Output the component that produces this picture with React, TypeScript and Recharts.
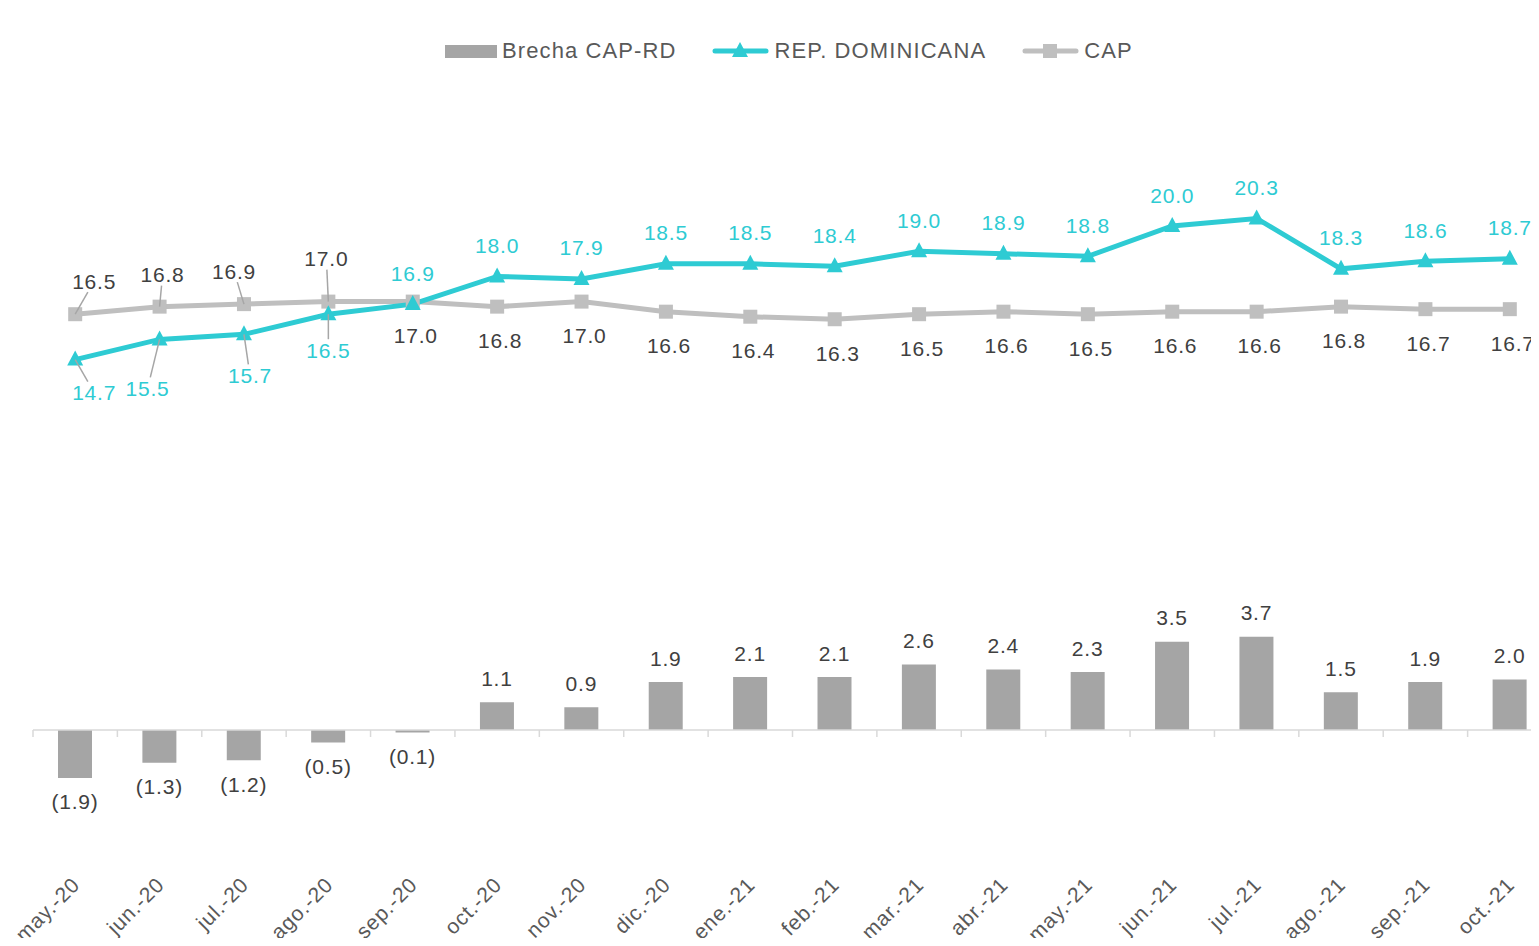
import React from "react";
import {
  ComposedChart,
  Bar,
  Line,
  XAxis,
  YAxis,
  ReferenceLine,
  LabelList,
} from "recharts";

const months = [
  "may.-20", "jun.-20", "jul.-20", "ago.-20", "sep.-20", "oct.-20",
  "nov.-20", "dic.-20", "ene.-21", "feb.-21", "mar.-21", "abr.-21",
  "may.-21", "jun.-21", "jul.-21", "ago.-21", "sep.-21", "oct.-21",
];

const brecha = [
  -1.9, -1.3, -1.2, -0.5, -0.1, 1.1, 0.9, 1.9, 2.1,
  2.1, 2.6, 2.4, 2.3, 3.5, 3.7, 1.5, 1.9, 2.0,
];

const repDominicana = [
  14.7, 15.5, 15.7, 16.5, 16.9, 18.0, 17.9, 18.5, 18.5,
  18.4, 19.0, 18.9, 18.8, 20.0, 20.3, 18.3, 18.6, 18.7,
];

const cap = [
  16.5, 16.8, 16.9, 17.0, 17.0, 16.8, 17.0, 16.6, 16.4,
  16.3, 16.5, 16.6, 16.5, 16.6, 16.6, 16.8, 16.7, 16.7,
];

const data = months.map((month, i) => ({
  month,
  brecha: brecha[i],
  rd: repDominicana[i],
  cap: cap[i],
}));

const CYAN = "#2ECBD3";
const LINE_GRAY = "#BFBFBF";
const BAR_GRAY = "#A5A5A5";
const TEXT = "#404040";
const FONT = "'Liberation Sans', Arial, sans-serif";

// label offsets for the crowded first points (the rest follow a default)
const capLabelOffsets = [[19, -33], [3, -32], [-10, -33], [-2, -43]];
const rdLabelOffsets = [[19, 33], [-12, 49], [6, 41], [0, 36]];

const fmt = (v: number) => (v < 0 ? `(${Math.abs(v).toFixed(1)})` : v.toFixed(1));

function makeLineLabel(offsets: number[][], fallback: number[], color: string) {
  return (props: any) => {
    const { x, y, value, index } = props;
    const [dx, dy] = offsets[index] ?? fallback;
    const lx = x + dx;
    const ly = y + dy;
    const leader = index < offsets.length;
    const endY = ly - Math.sign(dy) * 11;
    const endX = x + (dx * (endY - y)) / dy;
    return (
      <g>
        {leader && (
          <line x1={x} y1={y} x2={endX} y2={endY} stroke="#A6A6A6" strokeWidth={1.5} />
        )}
        <text
          x={lx}
          y={ly}
          textAnchor="middle"
          dominantBaseline="central"
          fill={color}
          fontSize={21}
          letterSpacing={0.8}
          fontFamily={FONT}
        >
          {Number(value).toFixed(1)}
        </text>
      </g>
    );
  };
}

const BarLabel = (props: any) => {
  const { x, y, width, height, value } = props;
  const top = Math.min(y, y + height);
  const bottom = Math.max(y, y + height);
  const ly = value < 0 ? bottom + 24 : top - 24;
  return (
    <text
      x={x + width / 2}
      y={ly}
      textAnchor="middle"
      dominantBaseline="central"
      fill={TEXT}
      fontSize={21}
      letterSpacing={0.8}
      fontFamily={FONT}
    >
      {fmt(Number(value))}
    </text>
  );
};

const Triangle = (props: any) => {
  const { cx, cy, index } = props;
  if (cx == null || cy == null) return <g key={index} />;
  return (
    <polygon
      key={index}
      points={`${cx},${cy - 9} ${cx - 8},${cy + 6} ${cx + 8},${cy + 6}`}
      fill={CYAN}
    />
  );
};

const Square = (props: any) => {
  const { cx, cy, index } = props;
  if (cx == null || cy == null) return <g key={index} />;
  return <rect key={index} x={cx - 7} y={cy - 7} width={14} height={14} fill={LINE_GRAY} />;
};

// zero line with category boundary ticks (the category axis crosses at 0)
const ZeroAxis = (props: any) => {
  const { x1, y1, x2 } = props;
  const step = (x2 - x1) / months.length;
  return (
    <g>
      <line x1={x1} y1={y1} x2={x2} y2={y1} stroke="#D9D9D9" strokeWidth={1.5} />
      {Array.from({ length: months.length + 1 }, (_, i) => (
        <line
          key={i}
          x1={x1 + i * step}
          x2={x1 + i * step}
          y1={y1}
          y2={y1 + 7}
          stroke="#D9D9D9"
          strokeWidth={1.5}
        />
      ))}
    </g>
  );
};

const MonthTick = (props: any) => {
  const { x, y, payload } = props;
  const ax = x + 6;
  const ay = y + 30;
  return (
    <text
      x={ax}
      y={ay}
      transform={`rotate(-45, ${ax}, ${ay})`}
      textAnchor="end"
      fill="#595959"
      fontSize={21}
      letterSpacing={0.9}
      fontFamily={FONT}
    >
      {payload.value}
    </text>
  );
};

const legendText: React.CSSProperties = {
  fontFamily: FONT,
  fontSize: 22,
  letterSpacing: 1.1,
  color: "#595959",
  marginLeft: 5,
};

function ChartLegend() {
  return (
    <div
      style={{
        position: "absolute",
        left: 445,
        top: 37,
        display: "flex",
        alignItems: "center",
        height: 28,
      }}
    >
      <span style={{ width: 52, height: 13, background: BAR_GRAY, display: "inline-block" }} />
      <span style={legendText}>Brecha CAP-RD</span>
      <svg width={57} height={20} style={{ marginLeft: 36 }}>
        <line x1={3} y1={10} x2={54} y2={10} stroke={CYAN} strokeWidth={5} strokeLinecap="round" />
        <polygon points="28,1 20,16 36,16" fill={CYAN} />
      </svg>
      <span style={legendText}>REP. DOMINICANA</span>
      <svg width={57} height={20} style={{ marginLeft: 36 }}>
        <line x1={3} y1={10} x2={54} y2={10} stroke={LINE_GRAY} strokeWidth={5} strokeLinecap="round" />
        <rect x={21} y={3} width={14} height={14} fill={LINE_GRAY} />
      </svg>
      <span style={legendText}>CAP</span>
    </div>
  );
}

export default function App() {
  return (
    <div
      style={{
        position: "relative",
        width: 1539,
        height: 946,
        margin: -8,
        overflow: "hidden",
        background: "#fff",
      }}
    >
      <ChartLegend />
      <ComposedChart
        width={1560}
        height={946}
        data={data}
        margin={{ top: 100, right: 8, bottom: 0, left: 33 }}
      >
        <XAxis
          dataKey="month"
          axisLine={false}
          tickLine={false}
          tickSize={0}
          tickMargin={0}
          height={90}
          interval={0}
          tick={<MonthTick />}
        />
        <YAxis hide domain={[-5, 25]} />
        <ReferenceLine y={0} shape={<ZeroAxis />} />
        <Bar dataKey="brecha" fill={BAR_GRAY} barSize={34} isAnimationActive={false}>
          <LabelList dataKey="brecha" content={<BarLabel />} />
        </Bar>
        <Line
          dataKey="cap"
          stroke={LINE_GRAY}
          strokeWidth={5}
          dot={Square}
          activeDot={false}
          isAnimationActive={false}
        >
          <LabelList dataKey="cap" content={makeLineLabel(capLabelOffsets, [3, 34], TEXT)} />
        </Line>
        <Line
          dataKey="rd"
          stroke={CYAN}
          strokeWidth={5}
          dot={Triangle}
          activeDot={false}
          isAnimationActive={false}
        >
          <LabelList dataKey="rd" content={makeLineLabel(rdLabelOffsets, [0, -31], CYAN)} />
        </Line>
      </ComposedChart>
    </div>
  );
}
